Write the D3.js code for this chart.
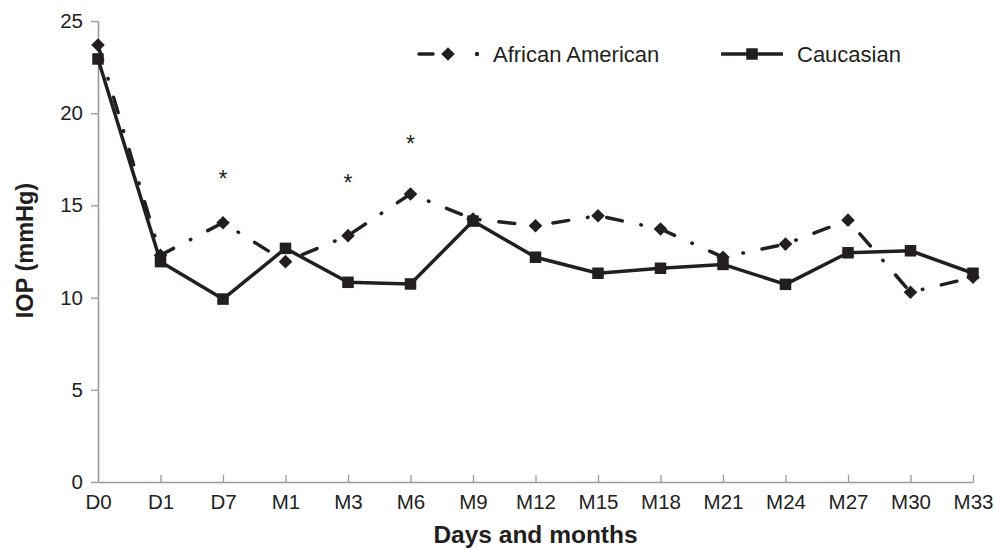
<!DOCTYPE html>
<html><head><meta charset="utf-8">
<script src="https://cdn.jsdelivr.net/npm/d3@7"></script>
<style>body{margin:0;background:#fff}svg{display:block}</style>
</head><body>
<script>
const categories = ["D0","D1","D7","M1","M3","M6","M9","M12","M15","M18","M21","M24","M27","M30","M33"];
const africanAmerican = [23.7,12.3,14.06,11.95,13.36,15.62,14.26,13.9,14.44,13.72,12.19,12.9,14.2,10.29,11.1];
const caucasian = [22.94,11.95,9.92,12.67,10.83,10.74,14.15,12.19,11.32,11.59,11.8,10.72,12.43,12.54,11.32];
const yTicks = [0,5,10,15,20,25];
const starCategories = ["D7","M3","M6"];
const starValues = [16.7,16.47,18.6];
const seriesNames = ["African American","Caucasian"];

const W=995,H=550;
const m={left:98,right:22,top:21,bottom:68};
const svg=d3.select("body").append("svg").attr("width",W).attr("height",H);
const x=d3.scalePoint().domain(categories).range([m.left,W-m.right]);
const y=d3.scaleLinear().domain([0,25]).range([H-m.bottom,m.top]);
const ink="#231f20", axisCol="#999";
const font="Liberation Sans, Arial, sans-serif";
const tickFs=20.5;

// axes
const gx=svg.append("g").attr("transform",`translate(0,${y(0)})`)
  .call(d3.axisBottom(x).tickSizeInner(-7).tickSizeOuter(0).tickPadding(12.4));
gx.select(".domain").attr("stroke",axisCol).attr("stroke-width",1.6);
gx.selectAll(".tick line").attr("stroke",axisCol).attr("stroke-width",1.3);
gx.selectAll(".tick").filter(d=>d===categories[0]).select("line").remove();
gx.selectAll(".tick text").attr("font-family",font).attr("font-size",tickFs).attr("fill","#222");

const gy=svg.append("g").attr("transform",`translate(${m.left},0)`)
  .call(d3.axisLeft(y).tickValues(yTicks).tickSizeInner(7).tickSizeOuter(0).tickPadding(8));
gy.select(".domain").attr("stroke",axisCol).attr("stroke-width",1.6);
gy.selectAll(".tick line").attr("stroke",axisCol).attr("stroke-width",1.3);
gy.selectAll(".tick text").attr("font-family",font).attr("font-size",tickFs).attr("fill","#222");

// titles
svg.append("text").attr("x",535.5).attr("y",543).attr("text-anchor","middle")
  .attr("font-family",font).attr("font-weight","bold").attr("font-size",24.5).attr("fill",ink).text("Days and months");
svg.append("text").attr("transform","translate(32.5,250.5) rotate(-90)").attr("text-anchor","middle")
  .attr("font-family",font).attr("font-weight","bold").attr("font-size",23.5).attr("fill",ink).text("IOP (mmHg)");

const line=d3.line().x((d,i)=>x(categories[i])).y(d=>y(d));

// Caucasian
svg.append("path").datum(caucasian).attr("d",line).attr("fill","none").attr("stroke",ink).attr("stroke-width",3.5).attr("stroke-linejoin","round");
// African American
svg.append("path").datum(africanAmerican).attr("d",line).attr("fill","none").attr("stroke",ink).attr("stroke-width",3.5)
  .attr("stroke-dasharray","16,19,0.5,19").attr("stroke-linecap","round");

const sq=11.5, dm=6.8;
svg.append("g").selectAll("rect").data(caucasian).join("rect")
  .attr("x",(d,i)=>x(categories[i])-sq/2).attr("y",d=>y(d)-sq/2).attr("width",sq).attr("height",sq).attr("fill",ink);
const diamond=(cx,cy)=>`M${cx},${cy-dm}L${cx+dm},${cy}L${cx},${cy+dm}L${cx-dm},${cy}Z`;
svg.append("g").selectAll("path").data(africanAmerican).join("path")
  .attr("d",(d,i)=>diamond(x(categories[i]),y(d))).attr("fill",ink);

// significance stars
svg.append("g").selectAll("text").data(starValues).join("text")
  .attr("x",(d,i)=>x(starCategories[i])).attr("y",d=>y(d)).attr("dy","0.57em").attr("text-anchor","middle")
  .attr("font-family",font).attr("font-size",23).attr("fill",ink).text("*");

// legend
const ly=54, legFs=22;
const lg=svg.append("g");
lg.append("line").attr("x1",419).attr("x2",433).attr("y1",ly).attr("y2",ly).attr("stroke",ink).attr("stroke-width",3.5).attr("stroke-linecap","round");
lg.append("path").attr("d",diamond(448,ly)).attr("fill",ink);
lg.append("circle").attr("cx",477).attr("cy",ly).attr("r",2.2).attr("fill",ink);
lg.append("text").attr("x",493).attr("y",ly).attr("dy","0.36em").attr("font-family",font).attr("font-size",legFs).attr("fill",ink).text(seriesNames[0]);
lg.append("line").attr("x1",721).attr("x2",783).attr("y1",ly).attr("y2",ly).attr("stroke",ink).attr("stroke-width",3.5);
lg.append("rect").attr("x",752-sq/2).attr("y",ly-sq/2).attr("width",sq).attr("height",sq).attr("fill",ink);
lg.append("text").attr("x",797).attr("y",ly).attr("dy","0.36em").attr("font-family",font).attr("font-size",legFs).attr("fill",ink).text(seriesNames[1]);
</script>
</body></html>
